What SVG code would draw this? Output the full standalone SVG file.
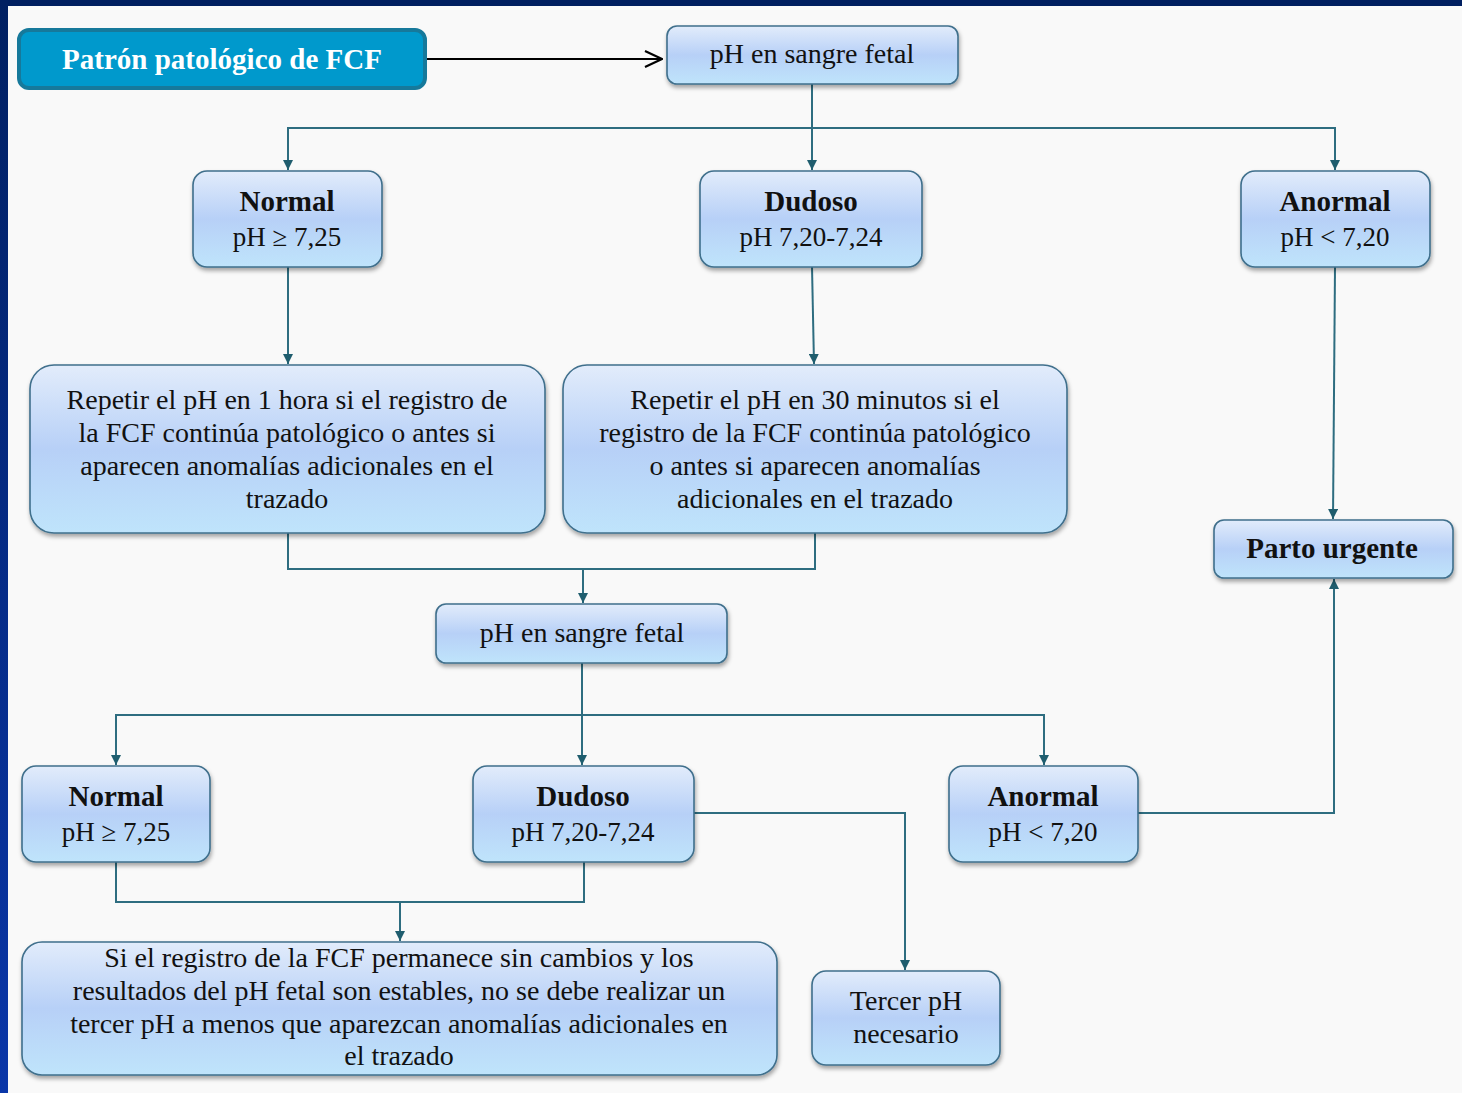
<svg xmlns="http://www.w3.org/2000/svg" width="1462" height="1093" viewBox="0 0 1462 1093">
<defs>
<linearGradient id="bx" x1="0" y1="0" x2="0" y2="1">
<stop offset="0" stop-color="#e2ecfb"/>
<stop offset="0.5" stop-color="#b7d0f7"/>
<stop offset="1" stop-color="#bfe4fb"/>
</linearGradient>
<linearGradient id="lb" x1="0" y1="0" x2="0" y2="1">
<stop offset="0" stop-color="#012062"/>
<stop offset="1" stop-color="#0a36a8"/>
</linearGradient>
<filter id="sh" x="-10%" y="-10%" width="120%" height="130%">
<feDropShadow dx="1" dy="3" stdDeviation="2" flood-color="#000" flood-opacity="0.35"/>
</filter>
<marker id="ar" viewBox="0 0 10 10" refX="10" refY="5" markerWidth="10" markerHeight="10" markerUnits="userSpaceOnUse" orient="auto">
<path d="M0,0 L10,5 L0,10 z" fill="#1f5d6e"/>
</marker>
<marker id="oa" viewBox="0 0 20 20" refX="19" refY="10" markerWidth="20" markerHeight="20" markerUnits="userSpaceOnUse" orient="auto">
<path d="M2,2 L19,10 L2,18" fill="none" stroke="#000" stroke-width="2.2"/>
</marker>
</defs>
<style>
.bg{fill:#f9f9f9}
.node rect{fill:url(#bx);stroke:#3f6f8c;stroke-width:1.6;filter:url(#sh)}
.node text{font-family:"Liberation Serif","DejaVu Serif",serif;font-size:28px;fill:#111;text-anchor:middle}
.node text.h{font-size:29px;font-weight:bold}
.node text.v{font-size:27px}
.con path{fill:none;stroke:#2e6d80;stroke-width:2}
</style>
<rect class="bg" x="0" y="0" width="1462" height="1093"/>
<rect x="0" y="0" width="1462" height="6" fill="#001f60"/>
<rect x="0" y="0" width="8" height="1093" fill="url(#lb)"/>

<g class="con">
<path d="M427,59 H662" style="stroke:#000" marker-end="url(#oa)"/>
<path d="M812,84 V170" marker-end="url(#ar)"/>
<path d="M812,128 H288 V170" marker-end="url(#ar)"/>
<path d="M812,128 H1335 V170" marker-end="url(#ar)"/>
<path d="M288,267 V364" marker-end="url(#ar)"/>
<path d="M812,267 L814,364" marker-end="url(#ar)"/>
<path d="M1335,267 L1333,519" marker-end="url(#ar)"/>
<path d="M288,533 V569 H815 V533"/>
<path d="M583,569 V603" marker-end="url(#ar)"/>
<path d="M582,663 V765" marker-end="url(#ar)"/>
<path d="M582,715 H116 V765" marker-end="url(#ar)"/>
<path d="M582,715 H1044 V765" marker-end="url(#ar)"/>
<path d="M1138,813 H1334 V579" marker-end="url(#ar)"/>
<path d="M694,813 H905 V970" marker-end="url(#ar)"/>
<path d="M116,862 V902 H584 V862"/>
<path d="M400,902 V941" marker-end="url(#ar)"/>
</g>

<g id="n-titulo">
<rect x="19" y="30" width="406" height="58" rx="10" fill="#0099cc" stroke="#16799b" stroke-width="4"/>
<text x="222" y="69" font-family="Liberation Serif,DejaVu Serif,serif" font-size="29" font-weight="bold" fill="#fff" text-anchor="middle">Patrón patológico de FCF</text>
</g>
<g id="n-ph1" class="node">
<rect x="667" y="26" width="291" height="58" rx="10"/>
<text x="812" y="63">pH en sangre fetal</text>
</g>
<g id="n-normal1" class="node">
<rect x="193" y="171" width="189" height="96" rx="14"/>
<text class="h" x="287" y="211">Normal</text>
<text class="v" x="287" y="246">pH ≥ 7,25</text>
</g>
<g id="n-dudoso1" class="node">
<rect x="700" y="171" width="222" height="96" rx="14"/>
<text class="h" x="811" y="211">Dudoso</text>
<text class="v" x="811" y="246">pH 7,20-7,24</text>
</g>
<g id="n-anormal1" class="node">
<rect x="1241" y="171" width="189" height="96" rx="14"/>
<text class="h" x="1335" y="211">Anormal</text>
<text class="v" x="1335" y="246">pH &lt; 7,20</text>
</g>
<g id="n-repetir1" class="node">
<rect x="30" y="365" width="515" height="168" rx="24"/>
<text x="287" y="409">Repetir el pH en 1 hora si el registro de</text>
<text x="287" y="442">la FCF continúa patológico o antes si</text>
<text x="287" y="475">aparecen anomalías adicionales en el</text>
<text x="287" y="508">trazado</text>
</g>
<g id="n-repetir2" class="node">
<rect x="563" y="365" width="504" height="168" rx="24"/>
<text x="815" y="409">Repetir el pH en 30 minutos si el</text>
<text x="815" y="442">registro de la FCF continúa patológico</text>
<text x="815" y="475">o antes si aparecen anomalías</text>
<text x="815" y="508">adicionales en el trazado</text>
</g>
<g id="n-parto" class="node">
<rect x="1214" y="520" width="239" height="58" rx="10"/>
<text class="h" x="1332" y="558">Parto urgente</text>
</g>
<g id="n-ph2" class="node">
<rect x="436" y="604" width="291" height="59" rx="10"/>
<text x="582" y="642">pH en sangre fetal</text>
</g>
<g id="n-normal2" class="node">
<rect x="22" y="766" width="188" height="96" rx="14"/>
<text class="h" x="116" y="806">Normal</text>
<text class="v" x="116" y="841">pH ≥ 7,25</text>
</g>
<g id="n-dudoso2" class="node">
<rect x="473" y="766" width="221" height="96" rx="14"/>
<text class="h" x="583" y="806">Dudoso</text>
<text class="v" x="583" y="841">pH 7,20-7,24</text>
</g>
<g id="n-anormal2" class="node">
<rect x="949" y="766" width="189" height="96" rx="14"/>
<text class="h" x="1043" y="806">Anormal</text>
<text class="v" x="1043" y="841">pH &lt; 7,20</text>
</g>
<g id="n-si" class="node">
<rect x="22" y="942" width="755" height="133" rx="20"/>
<text x="399" y="967">Si el registro de la FCF permanece sin cambios y los</text>
<text x="399" y="1000">resultados del pH fetal son estables, no se debe realizar un</text>
<text x="399" y="1033">tercer pH a menos que aparezcan anomalías adicionales en</text>
<text x="399" y="1065">el trazado</text>
</g>
<g id="n-tercer" class="node">
<rect x="812" y="971" width="188" height="94" rx="14"/>
<text x="906" y="1010">Tercer pH</text>
<text x="906" y="1043">necesario</text>
</g>
</svg>
